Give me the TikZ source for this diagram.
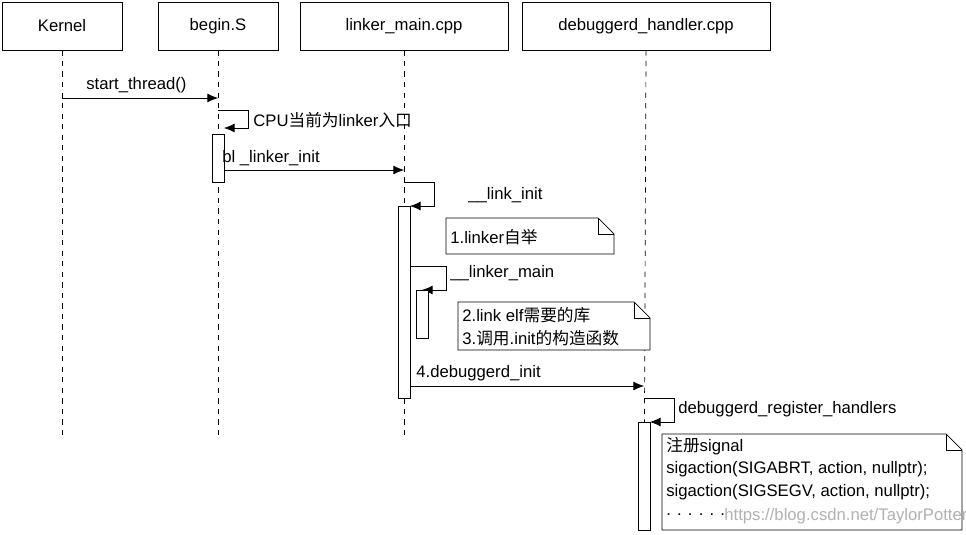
\documentclass[tikz,border=0pt]{standalone}
\usepackage{fontspec}
\setmainfont{Liberation Sans}
\newfontfamily\cjk{Noto Sans CJK SC}
\usetikzlibrary{arrows.meta,shapes.misc}
\newcommand{\zh}[1]{{\cjk #1}}

\begin{document}
\begin{tikzpicture}[x=0.02cm,y=-0.02cm,font=\fontsize{9.5}{12}\selectfont,
    actor/.style={draw,fill=white,minimum width=2.4cm,minimum height=0.96cm,inner sep=0pt},
    life/.style={dashed,thin},
    msg/.style={-{Latex[length=6pt,width=5pt]}},
    act/.style={draw,fill=white},
    lbl/.style={anchor=west,inner sep=0pt}]
    \useasboundingbox (0,0) rectangle (966,534);
    % actors
    \node [actor] (kernel) at (62,26) {Kernel};
    \node [actor] (begin) at (218,26) {begin.S};
    \node [actor,minimum width=4.16cm] (linker) at (404,26) {linker\_main.cpp};
    \node [actor,minimum width=4.96cm] (debug) at (646,26) {debuggerd\_handler.cpp};
    % lifelines
    \draw [life] (kernel.south) -- (62,435);
    \draw [life] (begin.south) -- (218,435);
    \draw [life] (linker.south) -- (404,435);
    \draw [life] (debug.south) -- (644,534);

    % start_thread
    \coordinate (k1) at (62,98); \coordinate (b1) at (218,98);
    \draw [msg] (k1) -- (b1);
    \node [lbl] at (86,85) {start\_thread()};
    % self message on begin.S
    \draw [msg] (218,110) -- (248,110) -- (248,128) -- (224,128);
    \node [lbl] at (253,120) {CPU\zh{当前为}linker\zh{入口}};
    \draw [act] (212,134) rectangle (224,182);
    % bl _linker_init
    \coordinate (b2) at (224,170); \coordinate (l2) at (404,170);
    \draw [msg] (b2) -- (l2);
    \node [lbl] at (222,158) {bl \_linker\_init};
    % __link_init
    \draw [msg] (404,182) -- (434,182) -- (434,206) -- (410,206);
    \node [lbl] at (468,195) {\_\_link\_init};
    \draw [act] (398,206) rectangle (410,398);
    % note 1
    \draw [fill=white] (446,218) -- (598,218) -- (614,234) -- (614,254) -- (446,254) -- cycle;
    \draw (598,218) -- (598,234) -- (614,234);
    \node [lbl] at (450,237) {1.linker\zh{自举}};
    % __linker_main
    \draw [msg] (410,266) -- (446,266) -- (446,290) -- (422,290);
    \node [lbl] at (450,273) {\_\_linker\_main};
    \draw [act] (416,290) rectangle (428,338);
    % note 2
    \draw [fill=white] (458,302) -- (634,302) -- (650,318) -- (650,350) -- (458,350) -- cycle;
    \draw (634,302) -- (634,318) -- (650,318);
    \node [lbl] at (462,315) {2.link elf\zh{需要的库}};
    \node [lbl] at (462,338) {3.\zh{调用}.init\zh{的构造函数}};
    % debuggerd_init
    \coordinate (l3) at (410,386); \coordinate (d3) at (644,386);
    \draw [msg] (l3) -- (d3);
    \node [lbl] at (416,373) {4.debuggerd\_init};
    % debuggerd_register_handlers
    \draw [msg] (644,398) -- (674,398) -- (674,422) -- (650,422);
    \node [lbl] at (678,409) {debuggerd\_register\_handlers};
    \draw [act] (638,422) rectangle (650,530);
    % note 3
    \draw [fill=white] (662,434) -- (946,434) -- (962,450) -- (962,530) -- (662,530) -- cycle;
    \draw (946,434) -- (946,450) -- (962,450);
    \node [lbl] at (666,446) {\zh{注册}signal};
    \node [lbl] at (666,469) {sigaction(SIGABRT, action, nullptr);};
    \node [lbl] at (666,492) {sigaction(SIGSEGV, action, nullptr);};
    \node [lbl] at (666,515) {. . . . . .};
    \node [lbl,text=gray!60] at (724,516) {https://blog.csdn.net/TaylorPotter};
\end{tikzpicture}
\end{document}
